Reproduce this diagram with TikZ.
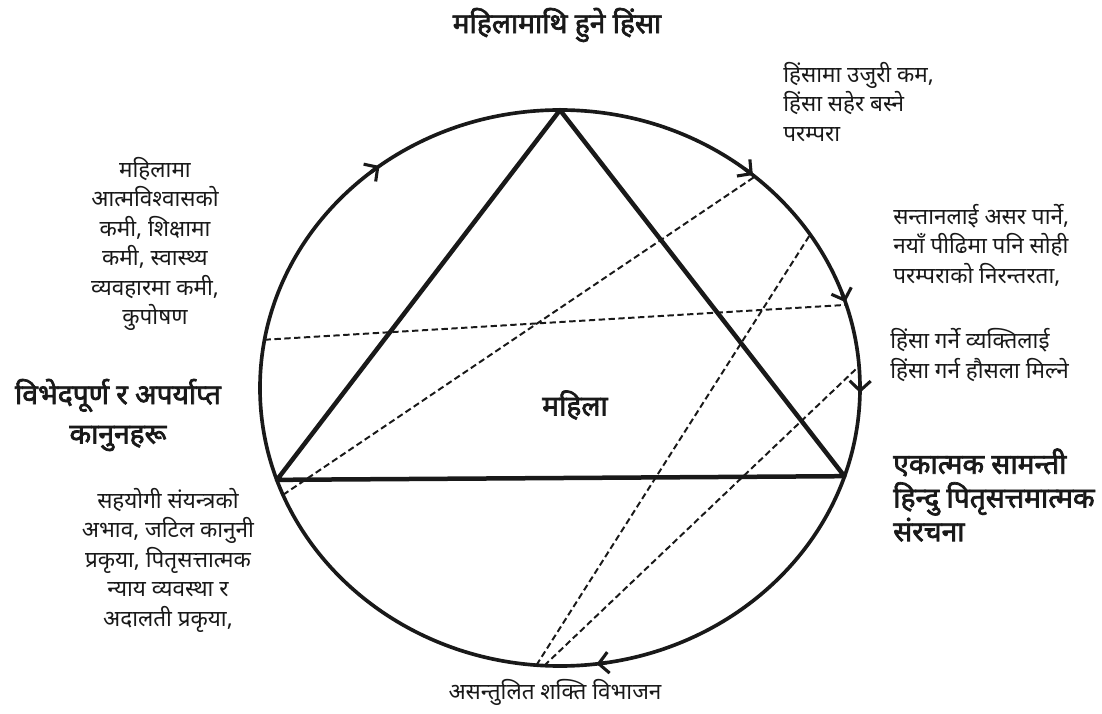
\documentclass[tikz,border=0pt]{standalone}
\usepackage{fontspec}
\setmainfont{Noto Sans}[Script=Devanagari, AutoFakeBold=2.5]
\usepackage{tikz}
\usetikzlibrary{arrows.meta, positioning, calc}

\begin{document}
\begin{tikzpicture}[scale=0.025,
    % Same colour for every stroke
    every path/.style={color=black!90},
    every node/.style={color=black!90, inner sep=0pt},
    % Styles for the strokes and texts
    side/.style={line width=3.2pt, line join=round},
    link/.style={line width=1.4pt, dash pattern=on 4.5pt off 2.5pt},
    flow/.style={line width=2.6pt, -{Straight Barb[length=7pt, width=15pt, line width=2.2pt]}},
    txt/.style={font=\fontsize{16}{21}\selectfont},
    head/.style={font=\bfseries\fontsize{20}{23}\selectfont}
  ]
  % --- Dimensions of the ring ---
  \def\Rx{300}   % half width
  \def\Ry{278}   % half height
  \useasboundingbox (-560,-325) rectangle (542,388);

  % --- Outer ring ---
  \draw[line width=2.6pt] (0,0) ellipse [x radius=\Rx, y radius=\Ry];

  % Arrow marks along the ring (clockwise)
  \foreach \a in {127, 50, 18, -1, -83} {
    \draw[flow] (\a+2:300 and 278) arc[start angle=\a+2, end angle=\a, x radius=\Rx, y radius=\Ry];
  }

  % --- Points on the ring ---
  \coordinate (apex) at (90:300 and 278);
  \coordinate (lv) at (199.3:300 and 278);
  \coordinate (rv) at (-18.5:300 and 278);
  \coordinate (d1a) at (170:300 and 278);
  \coordinate (d1b) at (17.4:300 and 278);
  \coordinate (d2a) at (202.6:300 and 278);
  \coordinate (d2b) at (49.5:300 and 278);
  \coordinate (d3a) at (-94.5:300 and 278);
  \coordinate (d3b) at (33.5:300 and 278);
  \coordinate (d4a) at (-93:300 and 278);
  \coordinate (d4b) at (4.5:300 and 278);

  % --- Triangle ---
  \draw[side] (apex) -- (lv) -- (rv) -- cycle;

  % --- Dashed links ---
  \draw[link] (d1a) -- (d1b);
  \draw[link] (d2a) -- (d2b);
  \draw[link] (d3a) -- (d3b);
  \draw[link] (d4a) -- (d4b);

  % --- Texts ---
  \node[head] (title) at (-3,363) {महिलामाथि हुने हिंसा};
  \node[head] (centre) at (15,-17) {महिला};
  \node[txt, anchor=west, align=left] (report) at (223,286)
      {हिंसामा उजुरी कम,\\ हिंसा सहेर बस्ने\\ परम्परा};
  \node[txt, align=center] (self) at (-405,144)
      {महिलामा\\ आत्मविश्वासको\\ कमी, शिक्षामा\\ कमी, स्वास्थ्य\\ व्यवहारमा कमी,\\ कुपोषण};
  \node[txt, anchor=west, align=left] (child) at (333,143)
      {सन्तानलाई असर पार्ने,\\ नयाँ पीढिमा पनि सोही\\ परम्पराको निरन्तरता,};
  \node[txt, anchor=west, align=left] (doer) at (330,33)
      {हिंसा गर्ने व्यक्तिलाई\\ हिंसा गर्न हौसला मिल्ने};
  \node[head, align=center, font=\bfseries\fontsize{20}{28}\selectfont] (law) at (-442,-27)
      {विभेदपूर्ण र अपर्याप्त\\ कानुनहरू};
  \node[head, anchor=west, align=left, font=\bfseries\fontsize{20}{24}\selectfont] (struct) at (333,-107)
      {एकात्मक सामन्ती\\ हिन्दु पितृसत्तमात्मक\\ संरचना};
  \node[txt, align=center] (court) at (-392,-172)
      {सहयोगी संयन्त्रको\\ अभाव, जटिल कानुनी\\ प्रकृया, पितृसत्तात्मक\\ न्याय व्यवस्था र\\ अदालती प्रकृया,};
  \node[txt] (power) at (-5,-304) {असन्तुलित शक्ति विभाजन};
\end{tikzpicture}
\end{document}
